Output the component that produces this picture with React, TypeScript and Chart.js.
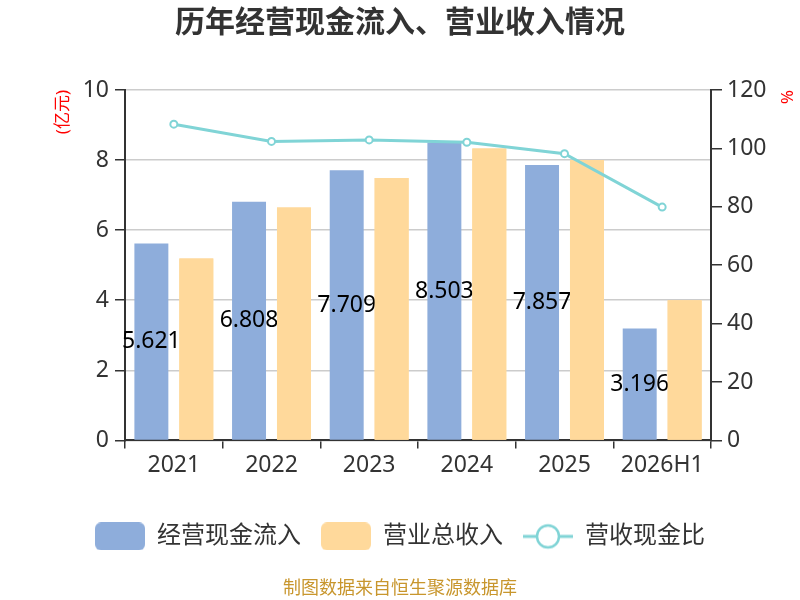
import { useEffect, useRef } from 'react'
import Chart from 'chart.js/auto'
import type { ChartConfiguration, Plugin } from 'chart.js'

const FONT = '"Noto Sans", "Noto Sans CJK SC", sans-serif'

const categories = ['2021', '2022', '2023', '2024', '2025', '2026H1']
const cashInflow = [5.621, 6.808, 7.709, 8.503, 7.857, 3.196]
const revenue = [5.19, 6.65, 7.49, 8.33, 8.0, 4.0]
const cashRatio = [108.3, 102.4, 102.9, 102.1, 98.2, 79.9]
const seriesNames = ['经营现金流入', '营业总收入', '营收现金比']

const BLUE = '#8EADDB'
const ORANGE = '#FFD99B'
const TEAL = '#80D4D6'

// legend icons drawn on small canvases
const makeBoxIcon = (color: string) => {
  const c = document.createElement('canvas')
  c.width = 50
  c.height = 28
  const g = c.getContext('2d')!
  g.fillStyle = color
  g.beginPath()
  g.roundRect(0, 0, 50, 28, 6)
  g.fill()
  return c
}

const makeLineIcon = (color: string) => {
  const c = document.createElement('canvas')
  c.width = 50
  c.height = 28
  const g = c.getContext('2d')!
  g.strokeStyle = color
  g.lineWidth = 3
  g.beginPath()
  g.moveTo(0, 14)
  g.lineTo(50, 14)
  g.stroke()
  g.fillStyle = '#fff'
  g.lineWidth = 2.5
  g.beginPath()
  g.arc(25, 14, 11, 0, Math.PI * 2)
  g.fill()
  g.stroke()
  return c
}

// values of the first bar series; the second series is painted again on top,
// so the labels slip under the orange bars like in the original
const barLabels: Plugin<'bar'> = {
  id: 'barLabels',
  afterDatasetDraw(chart, args) {
    if (args.index !== 0) return
    const ctx = chart.ctx
    ctx.save()
    ctx.font = `23px ${FONT}`
    ctx.fillStyle = '#000'
    ctx.textAlign = 'center'
    ctx.textBaseline = 'middle'
    args.meta.data.forEach((bar, i) => {
      const { x, y, base } = bar.getProps(['x', 'y', 'base'], true) as any
      ctx.fillText(cashInflow[i].toFixed(3), x, (y + base) / 2)
    })
    ctx.restore()
    chart.getDatasetMeta(1).data.forEach((el) => el.draw(ctx))
  },
}

export default function App() {
  const canvasRef = useRef<HTMLCanvasElement>(null)

  useEffect(() => {
    if (!canvasRef.current) return
    const icons = [makeBoxIcon(BLUE), makeBoxIcon(ORANGE), makeLineIcon(TEAL)]

    const config: ChartConfiguration<'bar' | 'line'> = {
      type: 'bar',
      data: {
        labels: categories,
        datasets: [
          {
            type: 'bar',
            label: seriesNames[0],
            data: cashInflow,
            backgroundColor: BLUE,
            yAxisID: 'y',
            order: 1,
            categoryPercentage: 0.92,
            barPercentage: 0.756,
          },
          {
            type: 'bar',
            label: seriesNames[1],
            data: revenue,
            backgroundColor: ORANGE,
            yAxisID: 'y',
            order: 2,
            categoryPercentage: 0.92,
            barPercentage: 0.756,
          },
          {
            type: 'line',
            label: seriesNames[2],
            data: cashRatio,
            yAxisID: 'y1',
            borderColor: TEAL,
            backgroundColor: '#fff',
            borderWidth: 3,
            pointRadius: 3.5,
            pointBorderWidth: 2,
            pointBackgroundColor: '#fff',
            pointBorderColor: TEAL,
            tension: 0,
            order: 0,
          },
        ],
      },
      options: {
        responsive: true,
        maintainAspectRatio: false,
        animation: false,
        layout: { padding: 0 },
        plugins: {
          title: {
            display: true,
            text: '历年经营现金流入、营业收入情况',
            color: '#333',
            font: { size: 30, weight: 'bold', family: FONT },
            padding: { top: 5, bottom: 49 },
          },
          subtitle: {
            display: true,
            position: 'bottom',
            text: '制图数据来自恒生聚源数据库',
            color: '#C8962D',
            font: { size: 18, family: FONT },
            padding: { top: 20, bottom: 0 },
          },
          legend: {
            position: 'bottom',
            labels: {
              usePointStyle: true,
              pointStyleWidth: 50,
              boxHeight: 28,
              padding: 20,
              color: '#333',
              font: { size: 24, family: FONT },
              sort: (a, b) => a.datasetIndex! - b.datasetIndex!,
              generateLabels: (chart) => {
                const items = Chart.defaults.plugins.legend.labels.generateLabels(chart)
                return items.map((it) => ({ ...it, pointStyle: icons[it.datasetIndex!] as any }))
              },
            },
          },
          tooltip: { enabled: false },
        },
        scales: {
          x: {
            offset: true,
            grid: {
              offset: true,
              drawOnChartArea: false,
              tickColor: '#333',
              tickLength: 8,
              lineWidth: 1.5,
            },
            border: { color: '#333', width: 2 },
            ticks: { color: '#333', font: { size: 23, family: FONT }, padding: 3 },
            afterFit: (s) => {
              s.height = 64
            },
          },
          y: {
            position: 'left',
            min: 0,
            max: 10,
            ticks: { stepSize: 2, color: '#333', font: { size: 23, family: FONT }, padding: 6 },
            grid: { color: '#cccccc', lineWidth: 1.5, tickColor: '#333', tickLength: 10 },
            border: { color: '#333', width: 2 },
            title: {
              display: true,
              text: '(亿元)',
              align: 'end',
              color: '#ff0000',
              font: { size: 17, family: FONT },
              padding: { top: 53, bottom: 0 },
            },
            afterFit: (s) => {
              s.width = 125
            },
          },
          y1: {
            position: 'right',
            min: 0,
            max: 120,
            ticks: { stepSize: 20, color: '#333', font: { size: 23, family: FONT }, padding: 5 },
            grid: { drawOnChartArea: false, tickColor: '#333', tickLength: 11, lineWidth: 1.5 },
            border: { color: '#333', width: 2 },
            title: {
              display: true,
              text: '%',
              align: 'end',
              color: '#ff0000',
              font: { size: 17, family: FONT },
              padding: { top: 4, bottom: 0 },
            },
            afterFit: (s) => {
              s.width = 89
            },
          },
        },
      },
      plugins: [barLabels as any],
    }

    const chart = new Chart(canvasRef.current, config as any)
    return () => chart.destroy()
  }, [])

  return (
    <div style={{ position: 'fixed', left: 0, top: 0, width: 800, height: 600, background: '#fff' }}>
      <canvas ref={canvasRef} />
    </div>
  )
}
